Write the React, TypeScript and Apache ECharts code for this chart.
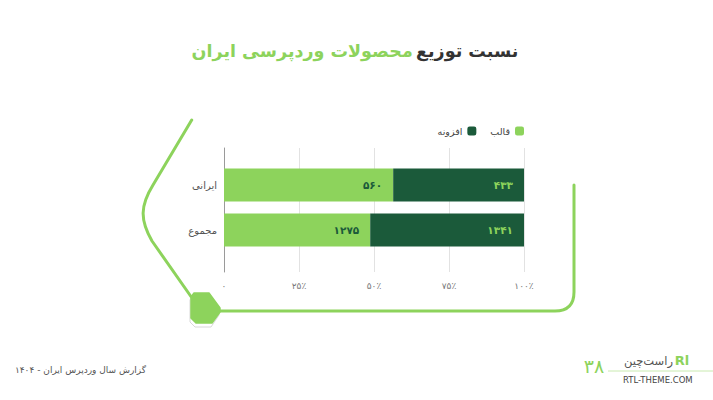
import React, { useEffect, useRef } from "react";
import * as echarts from "echarts";

const categories = ["ایرانی", "مجموع"];
const seriesNames = ["قالب", "افزونه"];
const themeValues = [560, 1275]; // قالب
const pluginValues = [433, 1341]; // افزونه
const xTicks = [0, 25, 50, 75, 100];
const titleDark = "نسبت توزیع";
const titleGreen = "محصولات وردپرسی ایران";
const footerText = "گزارش سال وردپرس ایران - ۱۴۰۴";
const pageNumber = "۳۸";
const brandName = "راست‌چین";
const brandSite = "RTL-THEME.COM";

const LIGHT = "#8dd35c";
const DARK = "#1b5a3a";
const FONT = "'DejaVu Sans', sans-serif";

const decoPath =
  "M191.7,120 L153,185 C140,206 140,220 152,241 L192,298 M220,311 L555,311 Q574,311 574,292 L574,185";

let registered = false;
function ensureShapes() {
  if (registered) return;
  echarts.graphic.registerShape("deco", echarts.graphic.extendPath(decoPath, {}) as any);
  registered = true;
}

const toFa = (n: number | string) =>
  String(n).replace(/\d/g, (d) => "۰۱۲۳۴۵۶۷۸۹"[Number(d)]);

export default function App() {
  const ref = useRef<HTMLDivElement>(null);
  useEffect(() => {
    if (!ref.current) return;
    ensureShapes();
    const chart = echarts.init(ref.current, undefined, { renderer: "svg" });
    const totals = categories.map((_, i) => themeValues[i] + pluginValues[i]);
    const themePct = themeValues.map((v, i) => (v / totals[i]) * 100);
    const pluginPct = pluginValues.map((v, i) => (v / totals[i]) * 100);

    const option: any = {
      animation: false,
      backgroundColor: "#ffffff",
      textStyle: { fontFamily: FONT },
      legend: {
        data: [seriesNames[1], seriesNames[0]],
        right: 189,
        top: 126,
        icon: "roundRect",
        itemWidth: 9,
        itemHeight: 9,
        itemGap: 14,
        align: "right",
        padding: 0,
        textStyle: { fontSize: 9.5, color: "#444", fontFamily: FONT },
      },
      grid: [
        { left: 224, right: 189, top: 162.5, height: 90, containLabel: false },
        { left: 224, right: 189, top: 148, height: 124, containLabel: false },
      ],
      xAxis: [
        { type: "value", gridIndex: 0, min: 0, max: 100, show: false },
        {
          type: "value",
          gridIndex: 1,
          min: 0,
          max: 100,
          interval: 25,
          axisLine: { show: false },
          axisTick: { show: false },
          splitLine: { show: true, lineStyle: { color: "#e2e2e2", width: 1 } },
          axisLabel: {
            margin: 9,
            fontSize: 9,
            color: "#777",
            fontFamily: FONT,
            formatter: (v: number) => (xTicks.includes(v) ? (v === 0 ? toFa(0) : toFa(v) + "٪") : ""),
          },
        },
      ],
      yAxis: [
        {
          type: "category",
          gridIndex: 0,
          data: categories,
          inverse: true,
          axisLine: { show: false },
          axisTick: { show: false },
          splitLine: { show: false },
          axisLabel: { margin: 7, fontSize: 10, color: "#555", fontFamily: FONT },
        },
        {
          type: "value",
          gridIndex: 1,
          min: 0,
          max: 1,
          axisLine: { show: true, onZero: false, lineStyle: { color: "#9a9a9a", width: 1 } },
          axisTick: { show: false },
          axisLabel: { show: false },
          splitLine: { show: false },
        },
      ],
      series: [
        {
          name: seriesNames[0],
          type: "bar",
          stack: "total",
          xAxisIndex: 0,
          yAxisIndex: 0,
          barWidth: 33,
          data: themePct,
          itemStyle: { color: LIGHT },
          label: {
            show: true,
            position: "insideRight",
            distance: 11,
            color: DARK,
            fontSize: 10.5,
            fontWeight: "bold",
            fontFamily: FONT,
            formatter: (p: any) => toFa(themeValues[p.dataIndex]),
          },
        },
        {
          name: seriesNames[1],
          type: "bar",
          stack: "total",
          xAxisIndex: 0,
          yAxisIndex: 0,
          barWidth: 33,
          data: pluginPct,
          itemStyle: { color: DARK },
          label: {
            show: true,
            position: "insideRight",
            distance: 11,
            color: LIGHT,
            fontSize: 10.5,
            fontWeight: "bold",
            fontFamily: FONT,
            formatter: (p: any) => toFa(pluginValues[p.dataIndex]),
          },
        },
      ],
      graphic: [
        {
          type: "text",
          x: 355,
          y: 51,
          style: {
            text: `{g|${titleGreen}} {d|${titleDark}}`,
            align: "center",
            verticalAlign: "middle",
            rich: {
              g: { fontSize: 17.5, fontWeight: "bold", fill: LIGHT, fontFamily: FONT },
              d: { fontSize: 17.5, fontWeight: "bold", fill: "#333333", fontFamily: FONT },
            },
          },
        },
        {
          type: "deco",
          x: 0,
          y: 0,
          style: { fill: "none", stroke: LIGHT, lineWidth: 3, lineCap: "round", lineJoin: "round" },
        },
        {
          type: "polygon",
          shape: {
            points: [
              [192, 296], [208, 296], [219, 311], [219, 315], [211, 327], [195, 327], [190, 322], [190, 300],
            ],
          },
          style: { fill: "#ffffff", stroke: "#d8d8d8", lineWidth: 1 },
        },
        {
          type: "polygon",
          shape: {
            points: [
              [194, 293], [209, 293], [220, 308], [220, 312], [212, 323], [196, 323], [191, 318], [191, 297],
            ],
          },
          style: { fill: LIGHT, stroke: LIGHT, lineWidth: 1.5, lineJoin: "round" },
        },
        {
          type: "text",
          x: 146,
          y: 370,
          style: { text: footerText, align: "right", verticalAlign: "middle", fontSize: 9, fill: "#555", fontFamily: FONT },
        },
        {
          type: "text",
          x: 594,
          y: 366,
          style: { text: pageNumber, align: "center", verticalAlign: "middle", fontSize: 19, fill: LIGHT, fontFamily: FONT },
        },
        {
          type: "line",
          shape: { x1: 608, y1: 371, x2: 713, y2: 371 },
          style: { stroke: "#c9eab0", lineWidth: 1 },
        },
        {
          type: "text",
          x: 682,
          y: 360.5,
          style: { text: "Rl", align: "center", verticalAlign: "middle", fontSize: 13, fontWeight: "bold", fill: LIGHT, fontFamily: FONT },
        },
        {
          type: "text",
          x: 673,
          y: 360.5,
          style: { text: brandName, align: "right", verticalAlign: "middle", fontSize: 11.5, fill: "#555", fontFamily: FONT },
        },
        {
          type: "text",
          x: 623,
          y: 379.5,
          style: { text: brandSite, align: "left", verticalAlign: "middle", fontSize: 8.5, fill: "#444", fontFamily: FONT },
        },
      ],
    };
    chart.setOption(option);
    return () => chart.dispose();
  }, []);
  return (
    <div
      ref={ref}
      style={{ position: "fixed", left: 0, top: 0, width: 713, height: 400 }}
    />
  );
}
